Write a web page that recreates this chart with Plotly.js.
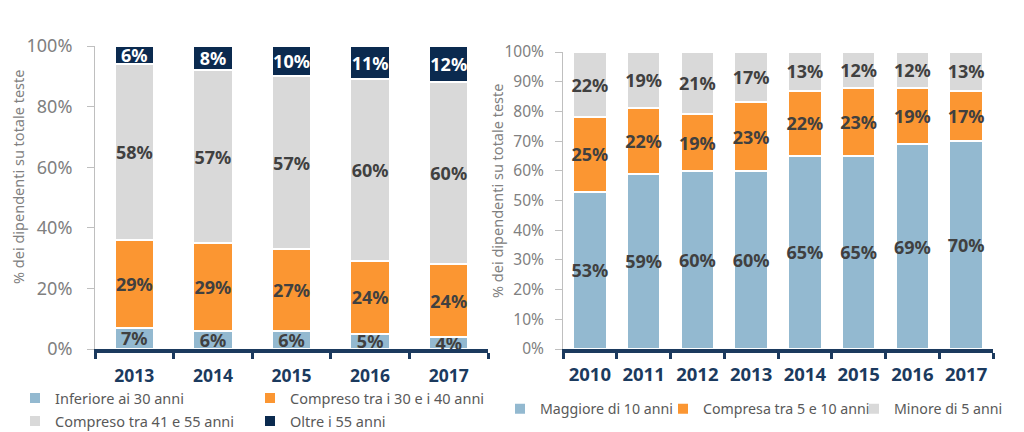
<!DOCTYPE html>
<html><head><meta charset="utf-8">
<script src="https://cdn.plot.ly/plotly-3.0.1.min.js"></script>
<style>html,body{margin:0;padding:0;background:#fff}#chart{width:1024px;height:432px}</style>
</head><body><div id="chart"></div>
<script>
// ---- Left chart: age classes ----
const yearsLeft = ['2013', '2014', '2015', '2016', '2017'];
const under30 = [7, 6, 6, 5, 4];
const age30to40 = [29, 29, 27, 24, 24];
const age41to55 = [58, 57, 57, 60, 60];
const over55 = [6, 8, 10, 11, 12];
const namesLeft = ['Inferiore ai 30 anni', 'Compreso tra i 30 e i 40 anni', 'Compreso tra 41 e 55 anni', 'Oltre i 55 anni'];

// ---- Right chart: seniority ----
const yearsRight = ['2010', '2011', '2012', '2013', '2014', '2015', '2016', '2017'];
const over10 = [53, 59, 60, 60, 65, 65, 69, 70];
const from5to10 = [25, 22, 19, 23, 22, 23, 19, 17];
const under5 = [22, 19, 21, 17, 13, 12, 12, 13];
const namesRight = ['Maggiore di 10 anni', 'Compresa tra 5 e 10 anni', 'Minore di 5 anni'];

const yTitle = '% dei dipendenti su totale teste';

const FONT = 'Noto Sans, Open Sans, DejaVu Sans, sans-serif';
const BLUE = '#93b9d0', ORANGE = '#fb9632', GREY = '#d9d9d9', NAVY = '#0b2a4f';
const LABEL = '#404040', AXNAVY = '#1b3a5e', TICKGREY = '#808080';

function pct(arr) { return arr.map(v => v + '%'); }

function barTrace(x, y, name, color, xa, ya, width, legendId, textColor) {
  return {
    type: 'bar', x: x, y: y, name: name,
    xaxis: xa, yaxis: ya, legend: legendId,
    width: width,
    marker: { color: color, line: { color: '#ffffff', width: 2 } },
    text: pct(y), textposition: 'inside', insidetextanchor: 'middle', textangle: 0,
    constraintext: 'none', cliponaxis: false,
    textfont: { family: FONT, size: 18, color: textColor, weight: 700 },
    hoverinfo: 'x+y+name'
  };
}

const traces = [
  barTrace(yearsLeft, under30, namesLeft[0], BLUE, 'x', 'y', 0.5, 'legend', LABEL),
  barTrace(yearsLeft, age30to40, namesLeft[1], ORANGE, 'x', 'y', 0.5, 'legend2', LABEL),
  barTrace(yearsLeft, age41to55, namesLeft[2], GREY, 'x', 'y', 0.5, 'legend3', LABEL),
  barTrace(yearsLeft, over55, namesLeft[3], NAVY, 'x', 'y', 0.5, 'legend4', '#ffffff'),
  barTrace(yearsRight, over10, namesRight[0], BLUE, 'x2', 'y2', 0.62, 'legend5', LABEL),
  barTrace(yearsRight, from5to10, namesRight[1], ORANGE, 'x2', 'y2', 0.62, 'legend6', LABEL),
  barTrace(yearsRight, under5, namesRight[2], GREY, 'x2', 'y2', 0.62, 'legend7', LABEL)
];

function legendAt(textX, cy, fsize) {
  return {
    x: (textX - 25) / 1024, y: 1 - cy / 432, xref: 'paper', yref: 'paper',
    xanchor: 'left', yanchor: 'middle', orientation: 'h', indentation: -15,
    bgcolor: 'rgba(0,0,0,0)', borderwidth: 0,
    font: { family: FONT, size: fsize, color: '#595959' }
  };
}

function xAxis(domain, anchor, standoff, fsize) {
  return {
    domain: domain, anchor: anchor, type: 'category',
    showline: true, linecolor: AXNAVY, linewidth: 4,
    ticks: 'outside', tickson: 'boundaries', ticklen: 6, tickwidth: 3, tickcolor: AXNAVY,
    ticklabelstandoff: standoff, tickangle: 0,
    tickfont: { family: FONT, size: fsize, color: AXNAVY, weight: 700 },
    showgrid: false, zeroline: false, fixedrange: true
  };
}

function yAxis(domain, anchor, dtick, fsize, labStandoff) {
  return {
    domain: domain, anchor: anchor, range: [0, 100], dtick: dtick, ticksuffix: '%',
    showline: true, linecolor: '#bfbfbf', linewidth: 1,
    ticks: 'outside', ticklen: 7, tickcolor: '#bfbfbf', tickwidth: 1,
    ticklabelstandoff: labStandoff,
    tickfont: { family: FONT, size: fsize, color: TICKGREY },
    showgrid: false, zeroline: false, fixedrange: true
  };
}

function yTitleAnn(cx, cy) {
  return {
    text: yTitle, xref: 'paper', yref: 'paper', x: cx / 1024, y: 1 - cy / 432,
    xanchor: 'center', yanchor: 'middle', textangle: -90, showarrow: false,
    font: { family: FONT, size: 14.5, color: TICKGREY }
  };
}

const layout = {
  width: 1024, height: 432,
  margin: { l: 0, r: 0, t: 0, b: 0, autoexpand: false },
  paper_bgcolor: '#ffffff', plot_bgcolor: '#ffffff',
  barmode: 'stack', bargap: 0.5,
  showlegend: true,
  font: { family: FONT, color: '#595959' },
  xaxis: xAxis([95 / 1024, 488 / 1024], 'y', 8, 17.5),
  yaxis: yAxis([83 / 432, 386 / 432], 'x', 20, 18, 11),
  xaxis2: xAxis([563 / 1024, 993 / 1024], 'y2', 6, 18.5),
  yaxis2: yAxis([83 / 432, 380 / 432], 'x2', 10, 15.5, 8),
  annotations: [yTitleAnn(18, 177), yTitleAnn(497, 191)],
  legend: legendAt(55, 398, 14.5),
  legend2: legendAt(290, 398, 14.5),
  legend3: legendAt(55, 421, 14.5),
  legend4: legendAt(290, 421, 14.5),
  legend5: legendAt(540, 409, 14.2),
  legend6: legendAt(703, 409, 14.2),
  legend7: legendAt(894, 409, 14.2)
};

Plotly.newPlot('chart', traces, layout, { displayModeBar: false, staticPlot: true });
</script>
</body></html>
